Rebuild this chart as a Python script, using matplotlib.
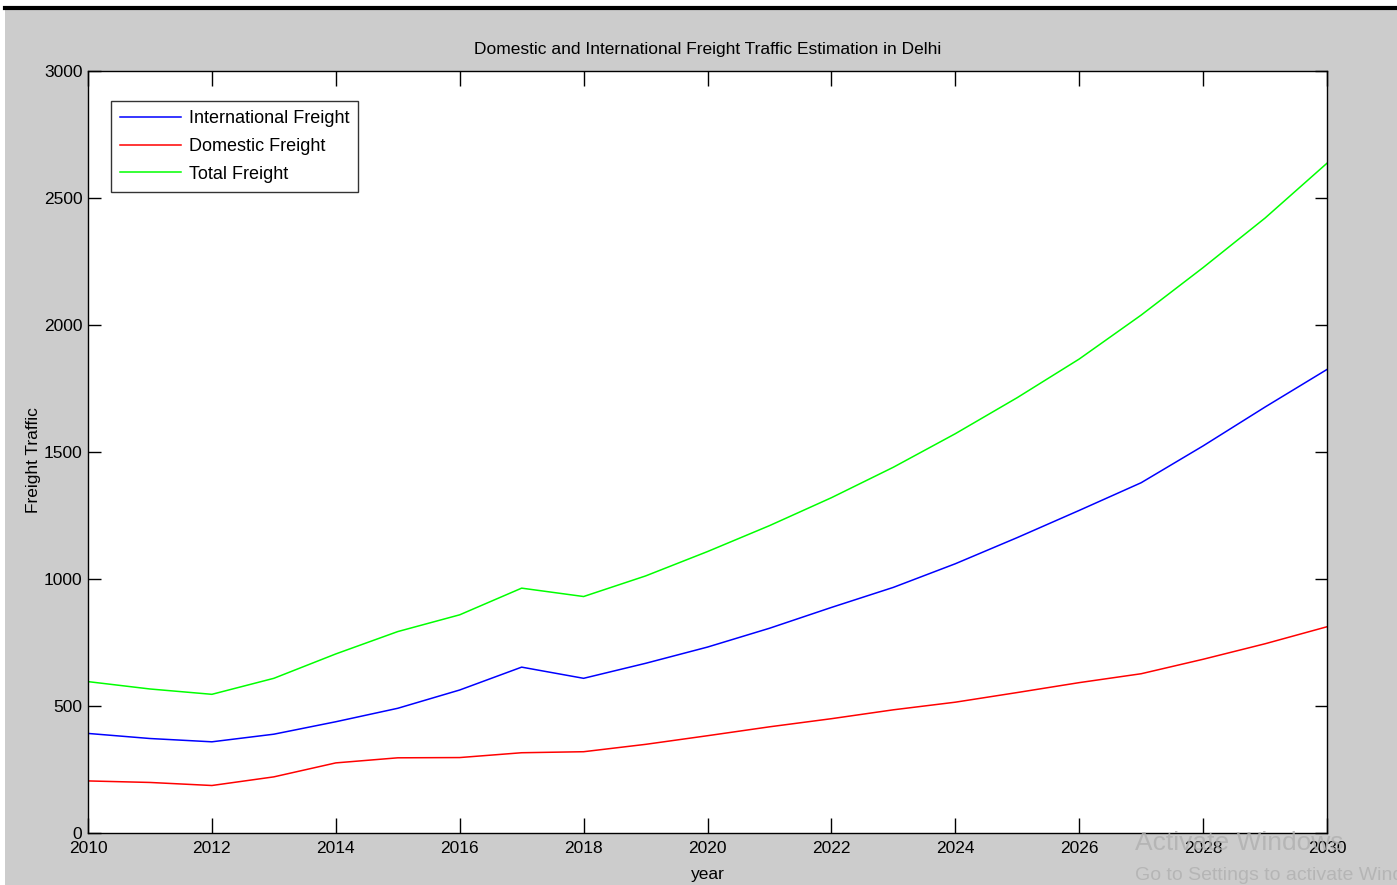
import matplotlib
matplotlib.use("Agg")
import matplotlib.pyplot as plt
from matplotlib.patches import Rectangle
from matplotlib.lines import Line2D

years = list(range(2010, 2031))
intl = [392, 372, 359, 389, 438, 491, 563, 653, 609, 668, 732, 806, 888,
        967, 1060, 1163, 1270, 1379, 1524, 1677, 1825]
dom = [205, 199, 187, 221, 276, 296, 297, 316, 320, 349, 383, 418, 450,
       485, 515, 553, 592, 627, 684, 745, 812]
total = [596, 567, 546, 609, 705, 793, 859, 964, 931, 1012, 1108, 1210, 1320,
         1440, 1572, 1714, 1866, 2039, 2226, 2421, 2637]

xticks = list(range(2010, 2031, 2))
yticks = [0, 500, 1000, 1500, 2000, 2500, 3000]

plt.rcParams['font.family'] = ['Liberation Sans', 'DejaVu Sans']

fig = plt.figure(figsize=(13.97, 8.85), dpi=100)
fig.patch.set_facecolor('#cccccc')

# screenshot edges: white strip on the left/top and black rule
fig.patches.append(Rectangle((0, 0), 5 / 1397, 1, transform=fig.transFigure,
                             facecolor='white', edgecolor='none', zorder=0))
fig.patches.append(Rectangle((0, 1 - 7 / 885), 1, 7 / 885, transform=fig.transFigure,
                             facecolor='white', edgecolor='none', zorder=0))
fig.lines.append(Line2D([5 / 1397, 1], [1 - 8 / 885, 1 - 8 / 885], transform=fig.transFigure,
                        color='black', lw=3))

ax = fig.add_axes([88 / 1397, 52 / 885, (1327 - 88) / 1397, (833 - 71) / 885])
ax.set_facecolor('white')

ax.plot(years, intl, color='#0000ff', lw=1.1, label='International Freight')
ax.plot(years, dom, color='#ff0000', lw=1.1, label='Domestic Freight')
ax.plot(years, total, color='#00ff00', lw=1.1, label='Total Freight')

ax.set_xlim(2010, 2030)
ax.set_ylim(0, 3000)
ax.set_xticks(xticks)
ax.set_yticks(yticks)
ax.tick_params(axis='x', direction='in', length=11, width=1, top=True,
               labelsize=12.5, pad=6)
ax.tick_params(axis='y', direction='in', length=9, width=1, right=True,
               labelsize=12.5, pad=4)
for s in ax.spines.values():
    s.set_linewidth(1)

ax.set_title('Domestic and International Freight Traffic Estimation in Delhi',
             fontsize=12.5, pad=12)
ax.set_xlabel('year', fontsize=12.5, labelpad=8)
ax.set_ylabel('Freight Traffic', fontsize=12.5)
ax.yaxis.set_label_coords(-47 / 1239, 0.49)

leg = ax.legend(loc='upper left', bbox_to_anchor=(23 / 1239, 1 - 30 / 762),
                fontsize=13, frameon=True, fancybox=False, handlelength=3.4,
                handletextpad=0.4, borderpad=0.5, labelspacing=0.6, borderaxespad=0)
leg.get_frame().set_edgecolor('black')
leg.get_frame().set_linewidth(1)

# watermark
fig.text(1135 / 1397, 1 - 843 / 885, 'Activate Windows', fontsize=19, color='#b0b0b0',
         alpha=0.8, va='center', ha='left')
fig.text(1135 / 1397, 1 - 875 / 885, 'Go to Settings to activate Windows', fontsize=14,
         color='#b0b0b0', alpha=0.8, va='center', ha='left')

fig.savefig('out.png', dpi=100, facecolor=fig.get_facecolor())
